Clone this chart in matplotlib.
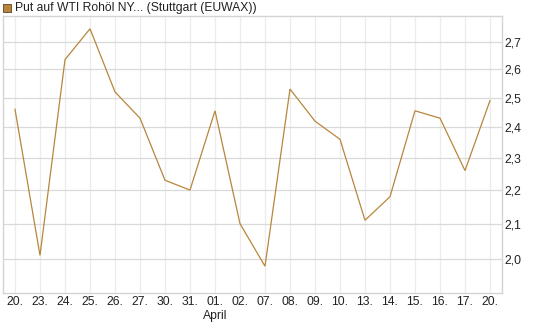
import matplotlib
matplotlib.use("Agg")
import matplotlib.pyplot as plt
import matplotlib.patches as mpatches
from matplotlib.ticker import FixedLocator, NullLocator, FuncFormatter

# 데이터
dates = ["20.", "23.", "24.", "25.", "26.", "27.", "30.", "31.", "01.", "02.",
         "07.", "08.", "09.", "10.", "13.", "14.", "15.", "16.", "17.", "20."]
prices = [2.46, 2.01, 2.635, 2.75, 2.52, 2.43, 2.23, 2.20, 2.455, 2.10,
          1.98, 2.53, 2.42, 2.36, 2.11, 2.18, 2.455, 2.43, 2.26, 2.49]
y_ticks = [2.0, 2.1, 2.2, 2.3, 2.4, 2.5, 2.6, 2.7]
month_label = "April"
month_at = 8
title = "Put auf WTI Rohöl NY... (Stuttgart (EUWAX))"

line_color = "#b8863b"

plt.rcParams['font.family'] = ['Liberation Sans', 'DejaVu Sans']

W, H = 545, 327
fig = plt.figure(figsize=(W / 100, H / 100), dpi=100, facecolor='white')
ax = fig.add_axes([3 / W, 1 - 293 / H, 499 / W, 277 / H])

x = list(range(len(prices)))
ax.plot(x, prices, color=line_color, linewidth=0.9, solid_joinstyle='miter')

ax.set_yscale('log')
ax.set_ylim(1.908, 2.799)
ax.set_xlim(-0.48, len(prices) - 1 + 0.48)

ax.yaxis.set_major_locator(FixedLocator(y_ticks))
ax.yaxis.set_minor_locator(NullLocator())
ax.yaxis.set_major_formatter(FuncFormatter(lambda v, p: f"{v:.1f}".replace('.', ',')))
ax.yaxis.tick_right()

labels = [d if i != month_at else d + "\n" + month_label for i, d in enumerate(dates)]
ax.set_xticks(x)
ax.set_xticklabels(labels)

ax.tick_params(axis='both', length=0, labelsize=8.7, colors='#222222')
ax.tick_params(axis='y', pad=2)
ax.tick_params(axis='x', pad=2.5)
for lbl in ax.get_xticklabels():
    lbl.set_linespacing(1.2)

# 그리드
ax.grid(axis='y', color='#dadada', linewidth=0.9)
ax.grid(axis='x', color='#ececec', linewidth=0.9)
ax.set_axisbelow(True)
for s in ax.spines.values():
    s.set_color('#d4d4d4')
    s.set_linewidth(1.0)

# 범례 (제목)
fig.patches.append(mpatches.Rectangle((3 / W, 1 - 12 / H), 8 / W, 8 / H,
                                      transform=fig.transFigure, facecolor=line_color,
                                      edgecolor='#5a4020', linewidth=0.6))
fig.text(15 / W, 1 - 8 / H, title, fontsize=8.7, va='center', ha='left', color='#222222')

fig.savefig("out.png", dpi=100, facecolor='white')
